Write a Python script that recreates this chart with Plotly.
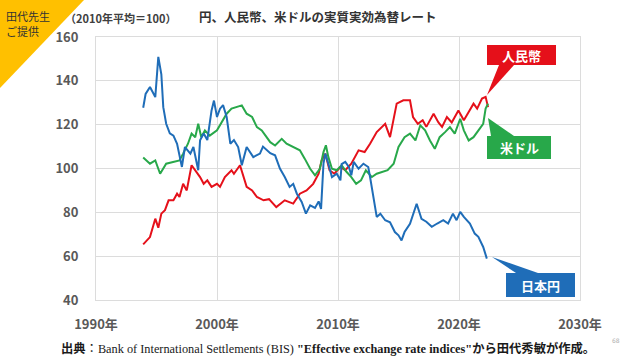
import plotly.graph_objects as go

# ---- data ----
jpy_years = [1993.9, 1994.1, 1994.46, 1994.7, 1994.9, 1995.15, 1995.4, 1995.56, 1995.8, 1996.1, 1996.4, 1996.7,
             1996.9, 1997.1, 1997.35, 1997.8, 1998.05, 1998.45, 1998.6, 1998.9, 1999.2, 1999.55, 1999.75, 2000.0,
             2000.25, 2000.5, 2000.8, 2001.1, 2001.4, 2001.75, 2002.05, 2002.45, 2003.0, 2003.55, 2003.8, 2004.4,
             2004.8, 2005.2, 2005.6, 2006.0, 2006.3, 2006.6, 2007.0, 2007.35, 2007.7, 2008.1, 2008.4, 2008.6,
             2008.8, 2008.95, 2009.2, 2009.5, 2009.9, 2010.2, 2010.3, 2010.6, 2010.9, 2011.1, 2011.3, 2011.7,
             2012.1, 2012.5, 2012.65, 2012.9, 2013.2, 2013.5, 2013.9, 2014.3, 2014.7, 2015.0, 2015.25, 2015.5,
             2015.95, 2016.5, 2016.9, 2017.3, 2017.75, 2018.2, 2018.7, 2019.1, 2019.5, 2019.8, 2020.1, 2020.4,
             2020.9, 2021.3, 2021.6, 2022.0, 2022.3]
jpy_values = [127.7, 134, 137.2, 135, 132.6, 150.9, 143, 128, 120.4, 116, 115, 111.3,
              105.2, 100.7, 109.8, 106.8, 109.8, 99.2, 112.9, 116, 113, 126.5, 131, 123.5,
              127.3, 128.9, 123.5, 111.3, 113, 109.8, 101.5, 109.8, 105.2, 106.8, 110, 107,
              106, 100, 96.1, 91.6, 93, 88.5, 84.7, 79.4, 83.2, 82, 85, 81.6,
              102.2, 106.8, 102.2, 96.1, 97.6, 94.6, 102, 103, 100.7, 96.9, 103, 99.9,
              102.2, 100.7, 96.1, 87, 77.9, 79.4, 76.4, 75.5, 71, 69.5, 67.2, 71,
              74.8, 83.9, 77, 75.7, 73.4, 74.9, 76.4, 74.9, 79.4, 76.4, 80.2, 77.9,
              74.9, 70.3, 68.8, 64.2, 58.9]

cny_years = [1993.9, 1994.46, 1994.9, 1995.15, 1995.4, 1995.7, 1996.0, 1996.4, 1996.7, 1996.9, 1997.2, 1997.5,
             1997.9, 1998.3, 1998.6, 1998.9, 1999.2, 1999.55, 2000.0, 2000.25, 2000.65, 2001.2, 2001.4, 2001.9,
             2002.45, 2002.9, 2003.3, 2003.85, 2004.3, 2004.9, 2005.6, 2006.3, 2006.85, 2007.4, 2007.95, 2008.4,
             2008.65, 2008.95, 2009.3, 2009.7, 2010.2, 2010.6, 2011.1, 2011.7, 2012.2, 2012.65, 2013.2, 2013.9,
             2014.3, 2014.85, 2015.4, 2015.95, 2016.2, 2016.6, 2017.0, 2017.3, 2017.9, 2018.3, 2018.6, 2019.0,
             2019.4, 2019.95, 2020.4, 2020.8, 2021.2, 2021.5, 2021.9, 2022.2, 2022.4]
cny_values = [65.4, 68.7, 77.1, 73, 79.4, 81, 85.5, 85.5, 88.5, 87, 93, 90,
              101.5, 98.5, 96.1, 93, 94.6, 91.6, 93, 91.6, 96.1, 99.2, 97.6, 101.5,
              91.6, 90, 87, 85.5, 86, 82.4, 85.5, 84, 88.5, 90, 93, 97.6,
              103.7, 106.8, 99.2, 97.6, 100.7, 99.2, 102.2, 108.3, 107.5, 111.3, 116.6, 120.4,
              114.3, 129.6, 131.1, 131.1, 123.5, 120.4, 122, 119, 125, 121, 119, 123.5,
              121, 126.5, 122, 125.8, 129.6, 127.3, 131.9, 132.7, 128]

usd_years = [1993.9, 1994.46, 1994.9, 1995.3, 1995.8, 1996.4, 1996.9, 1997.2, 1997.6, 1997.9, 1998.2, 1998.45,
             1998.7, 1999.0, 1999.4, 2000.0, 2000.4, 2000.8, 2001.2, 2001.6, 2002.05, 2002.45, 2002.9, 2003.3,
             2003.7, 2004.1, 2004.4, 2004.8, 2005.35, 2005.75, 2006.3, 2006.85, 2007.25, 2007.7, 2008.1, 2008.5,
             2008.8, 2009.0, 2009.2, 2009.5, 2009.9, 2010.3, 2010.7, 2011.1, 2011.5, 2011.9, 2012.3, 2012.8,
             2013.2, 2013.7, 2014.1, 2014.6, 2015.0, 2015.5, 2015.95, 2016.4, 2016.8, 2017.2, 2017.6, 2018.0,
             2018.4, 2018.85, 2019.25, 2019.65, 2020.1, 2020.4, 2020.8, 2021.2, 2021.6, 2022.0, 2022.2, 2022.4]
usd_values = [105, 102.2, 103.7, 97.6, 102.2, 102.9, 103.7, 106.8, 111.3, 115.9, 114.3, 120.4,
              114.3, 117.4, 115, 117.4, 121.2, 125, 127.3, 128, 128.8, 125, 123.5, 118.9,
              117.4, 114.3, 112, 110.5, 113.5, 111.3, 109.8, 108.3, 104.5, 99.9, 96.9, 99.9,
              107.5, 110.6, 105.3, 99.9, 99.2, 101.5, 98.5, 96.1, 93, 94.6, 99.2, 96.1,
              97.6, 98.4, 99.2, 102.2, 109.8, 114.3, 115.9, 112.8, 119.7, 117.4, 112.8, 109,
              114.3, 116.6, 118.9, 115.9, 122.7, 117.4, 112.8, 114.3, 117.4, 120.4, 127.3, 129.6]

x_ticks = [1990, 2000, 2010, 2020, 2030]
x_tick_labels = ["1990年", "2000年", "2010年", "2020年", "2030年"]
y_ticks = [40, 60, 80, 100, 120, 140, 160]

series_names = ["人民幣", "米ドル", "日本円"]

# ---- styling ----
RED = "#E5101A"
GREEN = "#28A84A"
BLUE = "#1F6DB8"
JP = "Noto Sans CJK JP"

W, H = 640, 360
L, R, T, B = 96, 580, 37, 300  # plot area in pixels


def px(x):
    return (x - L) / (R - L)


def py(y):
    return (B - y) / (B - T)


fig = go.Figure()
for yrs, vals, col, name in [(cny_years, cny_values, RED, series_names[0]),
                             (usd_years, usd_values, GREEN, series_names[1]),
                             (jpy_years, jpy_values, BLUE, series_names[2])]:
    fig.add_trace(go.Scatter(x=yrs, y=vals, mode="lines", name=name,
                             line=dict(color=col, width=2), showlegend=False))

shapes = []
annotations = []

# corner triangle
shapes.append(dict(type="path", xref="paper", yref="paper",
                   path=f"M {px(0)},{py(0)} L {px(84)},{py(0)} L {px(0)},{py(88)} Z",
                   fillcolor="#FFC000", line=dict(width=0), layer="above"))
annotations.append(dict(xref="paper", yref="paper", x=px(4), y=py(16), xanchor="left", yanchor="middle",
                        text="田代先生", showarrow=False, font=dict(family=JP, size=11, color="#333333")))
annotations.append(dict(xref="paper", yref="paper", x=px(4), y=py(31), xanchor="left", yanchor="middle",
                        text="ご提供", showarrow=False, font=dict(family=JP, size=11, color="#333333")))

# titles
annotations.append(dict(xref="paper", yref="paper", x=px(63), y=py(18), xanchor="left", yanchor="middle",
                        text="<b>（2010年平均＝100）</b>", showarrow=False,
                        font=dict(family=JP, size=11, color="#404040")))
annotations.append(dict(xref="paper", yref="paper", x=px(318), y=py(16), xanchor="center", yanchor="middle",
                        text="<b>円、人民幣、米ドルの実質実効為替レート</b>", showarrow=False,
                        font=dict(family=JP, size=12.5, color="#333333")))

# callout labels: (box x0,x1,y0,y1), pointer triangle, colour, text
callouts = [
    ((487, 556, 45, 65), [(499, 65), (514, 65), (487, 95)], RED, series_names[0]),
    ((487, 551, 136, 159), [(491, 136), (514, 136), (488, 118)], GREEN, series_names[1]),
    ((506, 575, 273, 297), [(516, 273), (538, 273), (492, 257)], BLUE, series_names[2]),
]
for (x0, x1, y0, y1), tri, col, txt in callouts:
    shapes.append(dict(type="rect", xref="paper", yref="paper", x0=px(x0), x1=px(x1), y0=py(y1), y1=py(y0),
                       fillcolor=col, line=dict(width=0), layer="above"))
    pth = "M " + " L ".join(f"{px(a)},{py(b)}" for a, b in tri) + " Z"
    shapes.append(dict(type="path", xref="paper", yref="paper", path=pth,
                       fillcolor=col, line=dict(width=0), layer="above"))
    annotations.append(dict(xref="paper", yref="paper", x=px((x0 + x1) / 2), y=py((y0 + y1) / 2),
                            xanchor="center", yanchor="middle", text=f"<b>{txt}</b>", showarrow=False,
                            font=dict(family=JP, size=13, color="white")))

# footer
annotations.append(dict(xref="paper", yref="paper", x=px(328), y=py(348), xanchor="center", yanchor="middle",
                        text="<b>出典</b>：Bank of International Settlements (BIS) "
                             "<b>\"Effective exchange rate indices\"から田代秀敏が作成。</b>",
                        showarrow=False,
                        font=dict(family="Liberation Serif, " + JP, size=12.3, color="#1a1a1a")))
annotations.append(dict(xref="paper", yref="paper", x=px(616), y=py(340), xanchor="center", yanchor="middle",
                        text="68", showarrow=False, font=dict(family="DejaVu Sans", size=6, color="#B0B0B0")))

fig.update_layout(
    width=W, height=H,
    margin=dict(l=L, r=W - R, t=T, b=H - B, pad=0),
    paper_bgcolor="white", plot_bgcolor="white",
    shapes=shapes, annotations=annotations,
    font=dict(family=JP),
)
fig.update_xaxes(range=[1990, 2030], tickvals=x_ticks, ticktext=x_tick_labels,
                 showgrid=True, gridcolor="#DCDCDC", gridwidth=1, zeroline=False,
                 showline=True, linecolor="#DCDCDC", mirror=True,
                 tickfont=dict(family=JP, size=13, color="#595959", weight="bold"),
                 ticklabelstandoff=12)
fig.update_yaxes(range=[40, 160], tickvals=y_ticks,
                 showgrid=True, gridcolor="#DCDCDC", gridwidth=1, zeroline=False,
                 showline=True, linecolor="#DCDCDC", mirror=True,
                 tickfont=dict(family=JP, size=13, color="#595959", weight="bold"),
                 ticklabelstandoff=14)

fig.write_html("out.html", config={"displayModeBar": False},
               post_script="document.body.style.margin='0';")
